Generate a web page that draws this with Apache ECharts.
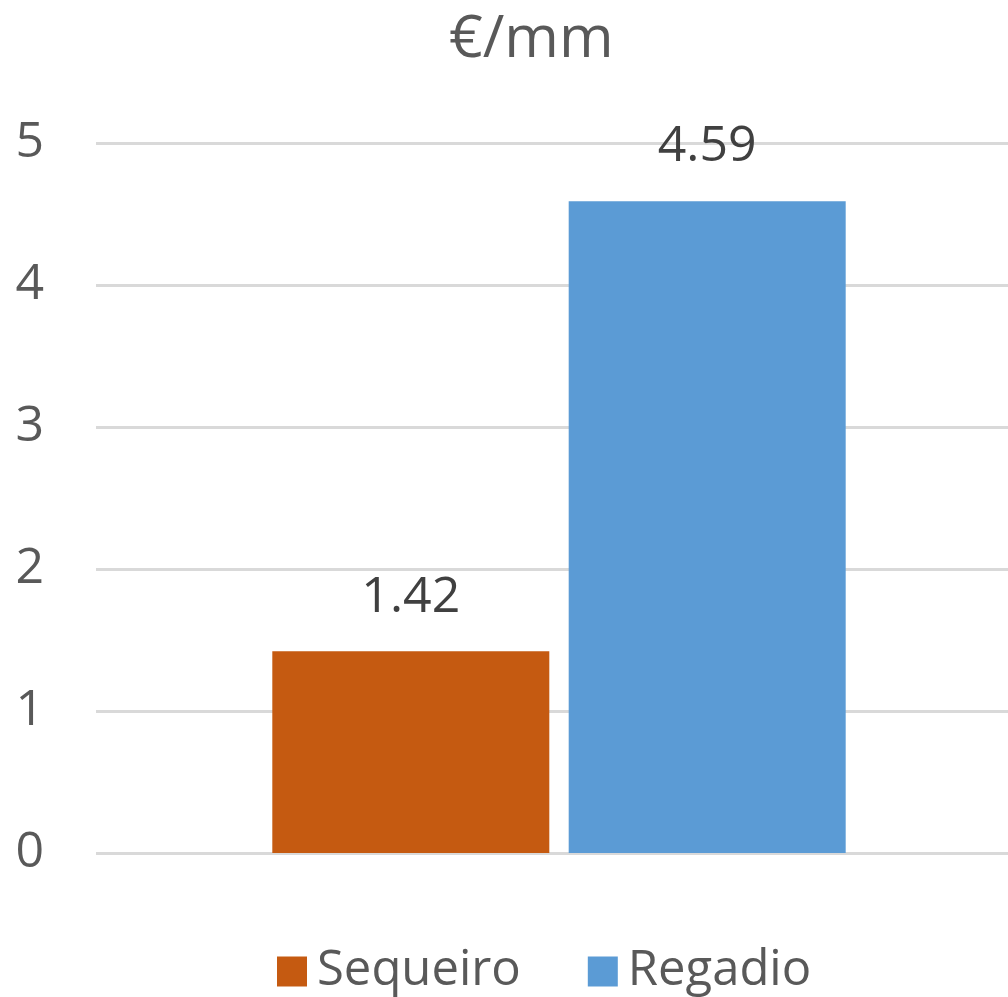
<!DOCTYPE html>
<html><head><meta charset="utf-8">
<script src="https://cdn.jsdelivr.net/npm/echarts@6/dist/echarts.min.js"></script>
<style>html,body{margin:0;padding:0;background:#fff}#c{width:1008px;height:997px}</style>
</head><body><div id="c"></div>
<script>
const categories = [''];
const seriesNames = ['Sequeiro', 'Regadio'];
const sequeiro = [1.42];
const regadio = [4.59];
const yTicks = [0, 1, 2, 3, 4, 5];
const colors = ['#C55A11', '#5B9BD5'];
const FONT = 'Open Sans';

const chart = echarts.init(document.getElementById('c'), null, {renderer: 'canvas'});
const yMin = yTicks[0], yMax = yTicks[yTicks.length - 1];
const mkSeries = (name, data, color) => ({
  name, type: 'bar', data, barWidth: 277, barGap: '7%', xAxisIndex: 1, yAxisIndex: 1,
  itemStyle: {color},
  label: {show: true, position: 'top', distance: 29, color: '#404040', fontSize: 50, fontFamily: FONT,
    formatter: p => p.value.toFixed(2)}
});
chart.setOption({
  animation: false,
  textStyle: {fontFamily: FONT},
  title: {text: '€/mm', left: 444, top: 6, textStyle: {fontSize: 59, fontWeight: 'normal', color: '#595959', fontFamily: FONT}},
  legend: {top: 942, left: 272, itemWidth: 30, itemHeight: 30, itemGap: 67,
    textStyle: {fontSize: 49, color: '#595959', fontFamily: FONT, padding: [0, 0, 0, 5]},
    data: seriesNames.map((n, i) => ({name: n, icon: 'rect', itemStyle: {color: colors[i]}}))},
  grid: [
    {left: 96, right: 0, top: 143, bottom: 144, containLabel: false},
    {left: 110, right: 0, top: 143, bottom: 144, containLabel: false}
  ],
  xAxis: [
    {type: 'category', gridIndex: 0, data: categories, show: false},
    {type: 'category', gridIndex: 1, data: categories, show: false}
  ],
  yAxis: [
    {type: 'value', gridIndex: 0, min: yMin, max: yMax, interval: 1,
      axisLine: {show: false}, axisTick: {show: false},
      axisLabel: {fontSize: 50, color: '#595959', margin: 52, fontFamily: FONT},
      splitLine: {lineStyle: {color: '#D9D9D9', width: 3}}},
    {type: 'value', gridIndex: 1, min: yMin, max: yMax, interval: 1, show: false, splitLine: {show: false}}
  ],
  series: [mkSeries(seriesNames[0], sequeiro, colors[0]), mkSeries(seriesNames[1], regadio, colors[1])]
});
</script></body></html>
